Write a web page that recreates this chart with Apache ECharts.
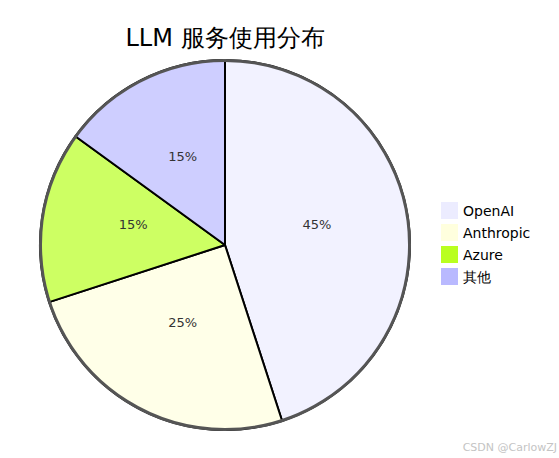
<!DOCTYPE html>
<html>
<head>
<meta charset="utf-8">
<script src="https://cdn.jsdelivr.net/npm/echarts@6/dist/echarts.min.js"></script>
<style>html,body{margin:0;padding:0;background:#fff;}#c{width:559px;height:458px;}</style>
</head>
<body>
<div id="c"></div>
<script>
const categories = ['OpenAI', 'Anthropic', 'Azure', '其他'];
const values = [45, 25, 15, 15];
const sliceColors = ['#f2f2ff', '#ffffe8', '#cdff63', '#ceceff'];
const legendColors = ['#ececff', '#ffffde', '#b9ff20', '#b9b9ff'];
const FONT = 'DejaVu Sans';

const chart = echarts.init(document.getElementById('c'), null, {renderer: 'svg'});
chart.setOption({
  animation: false,
  title: [
    {text: 'LLM 服务使用分布', left: 220, top: 21, textAlign: 'center',
     textStyle: {fontFamily: FONT, fontSize: 24, fontWeight: 'normal', color: '#000'}},
    {text: 'CSDN @CarlowZJ', right: -3, bottom: 0,
     textStyle: {fontFamily: FONT, fontSize: 11, fontWeight: 'normal', color: '#c4c4c4'}}
  ],
  legend: {
    orient: 'vertical', left: 436, top: 197,
    itemWidth: 17, itemHeight: 17, itemGap: 5, icon: 'rect',
    textStyle: {fontFamily: FONT, fontSize: 14, color: '#000'},
    data: categories.map((n, i) => ({name: n, itemStyle: {color: legendColors[i], borderWidth: 0}}))
  },
  series: [
    {
      type: 'pie', center: [225, 245], radius: [0, 185], startAngle: 90, clockwise: true,
      silent: true,
      label: {show: false},
      labelLine: {show: false},
      itemStyle: {borderColor: '#000', borderWidth: 2},
      data: categories.map((n, i) => ({name: n, value: values[i], itemStyle: {color: sliceColors[i]}}))
    },
    {
      type: 'pie', center: [225, 245], radius: [184, 185], startAngle: 90, silent: true,
      label: {show: false}, labelLine: {show: false}, legendHoverLink: false,
      itemStyle: {color: 'rgba(0,0,0,0)', borderColor: '#555', borderWidth: 2},
      data: [{name: '__outer', value: 1}]
    },
    {
      type: 'pie', center: [225, 245], radius: [0, 180], startAngle: 90, clockwise: true,
      silent: true,
      label: {show: true, position: 'inside', formatter: '{d}%\n ', fontFamily: FONT, fontSize: 13, color: '#333',
              lineHeight: 11},
      labelLine: {show: false},
      itemStyle: {color: 'rgba(0,0,0,0)', borderWidth: 0},
      data: categories.map((n, i) => ({name: n, value: values[i]}))
    }
  ]
});
</script>
</body>
</html>
